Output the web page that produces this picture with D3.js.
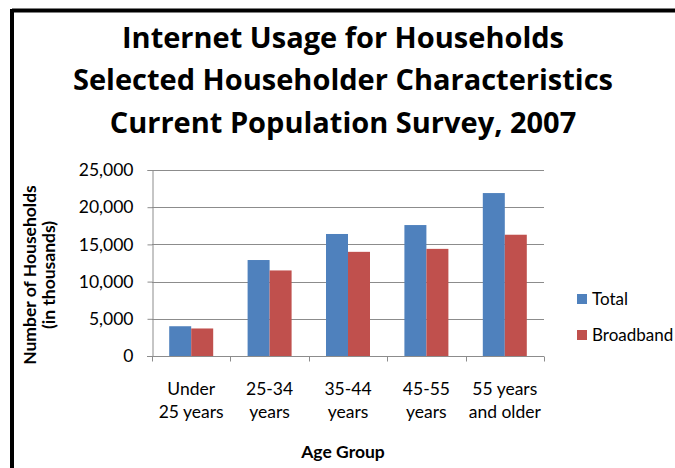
<!DOCTYPE html>
<html>
<head>
<meta charset="utf-8">
<script src="https://cdn.jsdelivr.net/npm/d3@7"></script>
<style>
  html, body { margin: 0; padding: 0; background: #ffffff; }
  svg { display: block; }
  text { font-family: Lato, "Open Sans", sans-serif; fill: #000; }
</style>
</head>
<body>
<svg id="chart" width="675" height="468"></svg>
<script>
// Internet usage by age of householder (thousands of households), CPS 2007
const categories = [["Under", "25 years"], ["25-34", "years"], ["35-44", "years"], ["45-55", "years"], ["55 years", "and older"]];
const seriesNames = ["Total", "Broadband"];
const totalValues = [4000, 12900, 16400, 17600, 21900];
const broadbandValues = [3700, 11500, 14000, 14400, 16300];
const yTicks = [0, 5000, 10000, 15000, 20000, 25000];
const titleLines = ["Internet Usage for Households", "Selected Householder Characteristics", "Current Population Survey, 2007"];
const colors = ["#4F81BD", "#C0504D"];

const svg = d3.select("#chart");
const W = 675, H = 468;
const plot = { left: 152, right: 544, top: 170, bottom: 356 };
const bodyFont = "17.5px";

// Frame: heavy black line on top and left
svg.append("rect").attr("x", 0).attr("y", 0).attr("width", W).attr("height", H).attr("fill", "#ffffff");
svg.append("line").attr("x1", 12).attr("x2", W).attr("y1", 10.5).attr("y2", 10.5)
  .attr("stroke", "#000").attr("stroke-width", 4);
svg.append("line").attr("x1", 12).attr("x2", 12).attr("y1", 9).attr("y2", H)
  .attr("stroke", "#000").attr("stroke-width", 4);

// Title
svg.append("g").selectAll("text").data(titleLines).join("text")
  .attr("x", 343).attr("y", (d, i) => 47.5 + i * 42.5)
  .attr("text-anchor", "middle")
  .style("font-family", "'Open Sans', Lato, sans-serif")
  .style("font-size", "29px").style("font-weight", "bold")
  .text(d => d);

const x0 = d3.scaleBand().domain(d3.range(categories.length)).range([plot.left, plot.right]).padding(0);
const x1 = d3.scaleBand().domain(seriesNames).range([0, x0.bandwidth()]).paddingInner(0).paddingOuter(0.782);
const y = d3.scaleLinear().domain([0, 25000]).range([plot.bottom, plot.top]);

// Gridlines
svg.append("g").selectAll("line").data(yTicks.slice(1)).join("line")
  .attr("x1", plot.left).attr("x2", plot.right)
  .attr("y1", d => Math.round(y(d)) + 0.5).attr("y2", d => Math.round(y(d)) + 0.5)
  .attr("stroke", "#8c8c8c").attr("stroke-width", 1);

// Y axis
const yAxis = svg.append("g").attr("transform", `translate(${plot.left + 0.5},0)`)
  .call(d3.axisLeft(y).tickValues(yTicks).tickSize(5).tickPadding(14).tickFormat(d3.format(",")));
yAxis.select(".domain").attr("stroke", "#8c8c8c");
yAxis.selectAll(".tick line").attr("stroke", "#8c8c8c");
yAxis.selectAll(".tick text").style("font-size", bodyFont).style("font-family", "Lato, sans-serif").attr("fill", "#000");

// Bars
const rows = categories.map((c, i) => ({ i, vals: [totalValues[i], broadbandValues[i]] }));
const groups = svg.append("g").selectAll("g").data(rows).join("g")
  .attr("transform", d => `translate(${x0(d.i)},0)`);
groups.selectAll("rect").data(d => d.vals.map((v, k) => ({ k, v }))).join("rect")
  .attr("x", d => x1(seriesNames[d.k]))
  .attr("width", x1.bandwidth())
  .attr("y", d => y(d.v))
  .attr("height", d => y(0) - y(d.v))
  .attr("fill", d => colors[d.k]);

// X axis with ticks at category boundaries
const xb = plot.bottom + 0.5;
svg.append("line").attr("x1", plot.left - 5).attr("x2", plot.right).attr("y1", xb).attr("y2", xb)
  .attr("stroke", "#8c8c8c");
const boundaries = d3.range(categories.length + 1).map(i => plot.left + i * x0.step());
svg.append("g").selectAll("line").data(boundaries).join("line")
  .attr("x1", d => Math.round(d) + 0.5).attr("x2", d => Math.round(d) + 0.5)
  .attr("y1", xb).attr("y2", xb + 5).attr("stroke", "#8c8c8c");

// Category labels (two lines each)
const labels = svg.append("g").selectAll("text").data(categories).join("text")
  .attr("text-anchor", "middle")
  .style("font-size", bodyFont);
labels.selectAll("tspan").data((d, i) => d.map(s => ({ s, i }))).join("tspan")
  .attr("x", d => x0(d.i) + x0.bandwidth() / 2)
  .attr("y", (d, j) => 395 + j * 23)
  .text(d => d.s);

// Axis titles
svg.append("text").attr("x", 343).attr("y", 458).attr("text-anchor", "middle")
  .style("font-size", bodyFont).style("font-weight", "bold").text("Age Group");
const yt = svg.append("text").attr("transform", "translate(0,275) rotate(-90)")
  .attr("text-anchor", "middle").style("font-size", bodyFont).style("font-weight", "bold");
yt.append("tspan").attr("x", 0).attr("y", 36).text("Number of Households");
yt.append("tspan").attr("x", 0).attr("y", 55).text("(in thousands)");

// Legend
const legend = svg.append("g").selectAll("g").data(seriesNames).join("g")
  .attr("transform", (d, i) => `translate(577,${294 + i * 36})`);
legend.append("rect").attr("width", 10).attr("height", 10).attr("fill", (d, i) => colors[i]);
legend.append("text").attr("x", 15).attr("y", 11).style("font-size", "17px").text(d => d);
</script>
</body>
</html>
